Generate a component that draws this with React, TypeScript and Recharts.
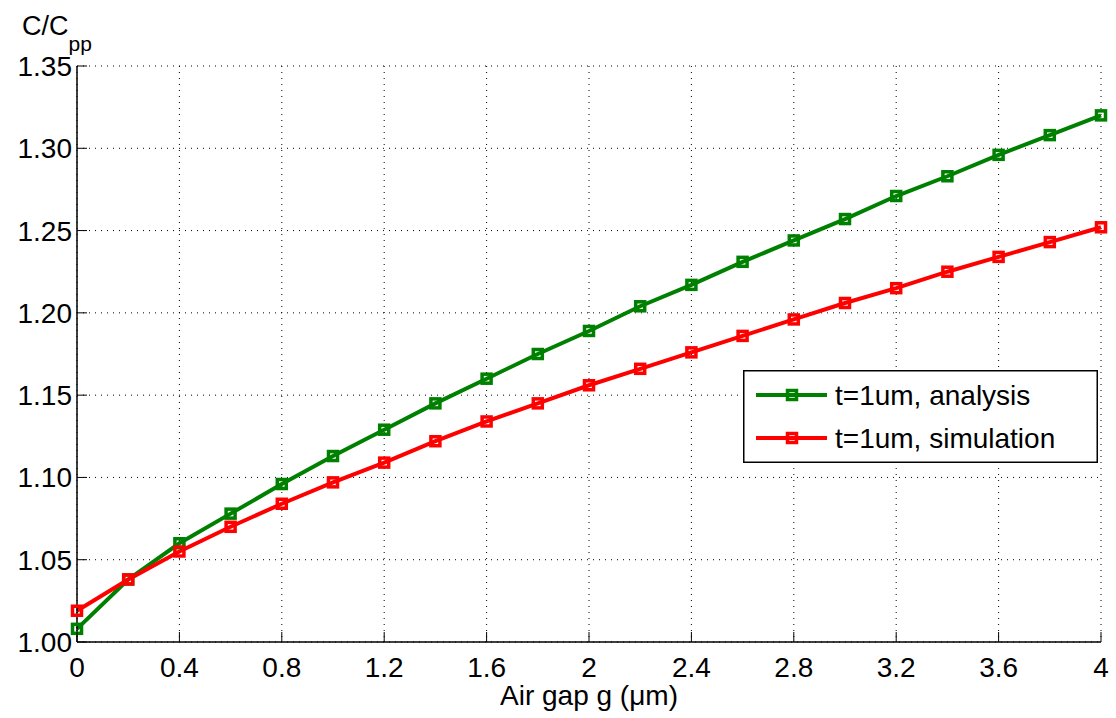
import React from 'react';
import { LineChart, Line, XAxis, YAxis, CartesianGrid, Legend } from 'recharts';

// Air gap g in micrometres
const gapValues = [0, 0.2, 0.4, 0.6, 0.8, 1.0, 1.2, 1.4, 1.6, 1.8, 2.0, 2.2, 2.4, 2.6, 2.8, 3.0, 3.2, 3.4, 3.6, 3.8, 4.0];

// Normalised capacitance C/Cpp
const analysisValues = [1.008, 1.038, 1.060, 1.078, 1.096, 1.113, 1.129, 1.145, 1.160, 1.175, 1.189, 1.204, 1.217, 1.231, 1.244, 1.257, 1.271, 1.283, 1.296, 1.308, 1.320];
const simulationValues = [1.019, 1.038, 1.055, 1.070, 1.084, 1.097, 1.109, 1.122, 1.134, 1.145, 1.156, 1.166, 1.176, 1.186, 1.196, 1.206, 1.215, 1.225, 1.234, 1.243, 1.252];

const xTicks = [0, 0.4, 0.8, 1.2, 1.6, 2, 2.4, 2.8, 3.2, 3.6, 4];
const yTicks = [1.0, 1.05, 1.1, 1.15, 1.2, 1.25, 1.3, 1.35];

const seriesNames = ['t=1um, analysis', 't=1um, simulation'];
const seriesColors = ['#008000', '#ff0000'];

const data = gapValues.map((g, i) => ({
  g,
  analysis: analysisValues[i],
  simulation: simulationValues[i],
}));

const FONT = '"Liberation Sans", Arial, Helvetica, sans-serif';
const TICK_LEN = 10;
const LINE_W = 4;

const BottomTick = (props: any) => {
  const { x, y, payload } = props;
  return (
    <g>
      <line x1={x} x2={x} y1={y} y2={y - TICK_LEN} stroke="#000" strokeWidth={1} />
      <text x={x} y={y + 35} textAnchor="middle" fontSize={28} fontFamily={FONT} fill="#000">
        {String(payload.value)}
      </text>
    </g>
  );
};

const TopTick = (props: any) => {
  const { x, y } = props;
  return <line x1={x} x2={x} y1={y} y2={y + TICK_LEN} stroke="#000" strokeWidth={1} />;
};

const LeftTick = (props: any) => {
  const { x, y, payload } = props;
  return (
    <g>
      <line x1={x} x2={x + TICK_LEN} y1={y} y2={y} stroke="#000" strokeWidth={1} />
      <text x={x - 5} y={y + 10} textAnchor="end" fontSize={28} fontFamily={FONT} fill="#000">
        {Number(payload.value).toFixed(2)}
      </text>
    </g>
  );
};

const RightTick = (props: any) => {
  const { x, y } = props;
  return <line x1={x} x2={x - TICK_LEN} y1={y} y2={y} stroke="#000" strokeWidth={1} />;
};

const SquareDot = (color: string) => (props: any) => {
  const { cx, cy, index } = props;
  if (cx == null || cy == null) return <g key={index} />;
  return (
    <rect
      key={index}
      x={cx - 4.5}
      y={cy - 4.5}
      width={9}
      height={9}
      fill="none"
      stroke={color}
      strokeWidth={3.5}
    />
  );
};

const YTitle = (props: any) => {
  const vb = props.viewBox || { x: 0, y: 66 };
  return (
    <text x={vb.x + 22} y={vb.y - 31} fontSize={27} fontFamily={FONT} fill="#000">
      C/C
      <tspan fontSize={21} dy={16}>pp</tspan>
    </text>
  );
};

const LegendBox = () => {
  const w = 355;
  const h = 93;
  const rows = [25, 68];
  return (
    <svg width={w} height={h} style={{ display: 'block' }}>
      <rect x={0.75} y={0.75} width={w - 1.5} height={h - 1.5} fill="#fff" stroke="#000" strokeWidth={1.5} />
      {seriesNames.map((name, i) => (
        <g key={name}>
          <line x1={13} x2={84} y1={rows[i]} y2={rows[i]} stroke={seriesColors[i]} strokeWidth={LINE_W} />
          <rect x={44.5} y={rows[i] - 4.5} width={9} height={9} fill="none" stroke={seriesColors[i]} strokeWidth={3.5} />
          <text x={92} y={rows[i] + 10} fontSize={28} fontFamily={FONT} fill="#000">
            {name}
          </text>
        </g>
      ))}
    </svg>
  );
};

export default function App() {
  return (
    <div style={{ position: 'absolute', left: 0, top: 0, background: '#fff' }}>
      <LineChart
        width={1116}
        height={718}
        data={data}
        margin={{ top: 66, right: 15, left: 0, bottom: 0 }}
        style={{ fontFamily: FONT }}
      >
        <CartesianGrid
          stroke="#000"
          strokeWidth={1}
          strokeDasharray="1 5"
          horizontalValues={yTicks}
          verticalValues={xTicks}
        />
        <XAxis
          dataKey="g"
          type="number"
          domain={[0, 4]}
          ticks={xTicks}
          interval={0}
          height={76}
          tickSize={0}
          tickMargin={0}
          tick={<BottomTick />}
          axisLine={{ stroke: '#000', strokeWidth: 1.5 }}
          label={{ value: 'Air gap g (μm)', position: 'insideBottom', offset: 13, fontSize: 28, fill: '#000', fontFamily: FONT }}
        />
        <XAxis
          xAxisId="top"
          orientation="top"
          dataKey="g"
          type="number"
          domain={[0, 4]}
          ticks={xTicks}
          interval={0}
          height={0}
          tickSize={0}
          tickMargin={0}
          tick={<TopTick />}
          axisLine={{ stroke: '#000', strokeWidth: 1.5 }}
        />
        <YAxis
          type="number"
          domain={[1, 1.35]}
          ticks={yTicks}
          interval={0}
          width={77}
          tickSize={0}
          tickMargin={0}
          tick={<LeftTick />}
          axisLine={{ stroke: '#000', strokeWidth: 1.5 }}
          label={{ content: <YTitle /> }}
        />
        <YAxis
          yAxisId="right"
          orientation="right"
          type="number"
          domain={[1, 1.35]}
          ticks={yTicks}
          interval={0}
          width={0}
          tickSize={0}
          tickMargin={0}
          tick={<RightTick />}
          axisLine={{ stroke: '#000', strokeWidth: 1.5 }}
        />
        <Line
          type="linear"
          dataKey="analysis"
          name={seriesNames[0]}
          stroke={seriesColors[0]}
          strokeWidth={LINE_W}
          dot={SquareDot(seriesColors[0])}
          isAnimationActive={false}
        />
        <Line
          type="linear"
          dataKey="simulation"
          name={seriesNames[1]}
          stroke={seriesColors[1]}
          strokeWidth={LINE_W}
          dot={SquareDot(seriesColors[1])}
          isAnimationActive={false}
        />
        <Legend
          layout="vertical"
          align="center"
          verticalAlign="middle"
          content={<LegendBox />}
          wrapperStyle={{ left: 743, top: 370, width: 355, height: 93 }}
        />
      </LineChart>
    </div>
  );
}
